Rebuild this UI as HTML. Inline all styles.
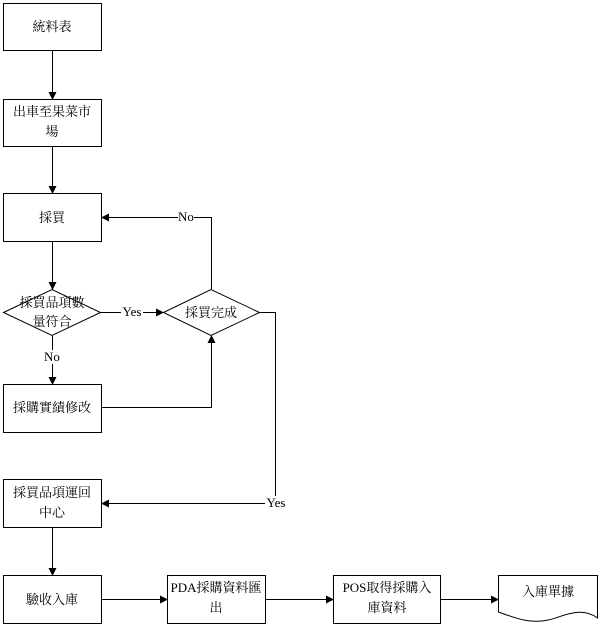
<!DOCTYPE html>
<html><head><meta charset="utf-8"><style>
body{margin:0;background:#fff}
svg text{font-family:"Liberation Serif","Noto Serif CJK SC",serif;font-size:13px;fill:#000}
</style></head><body>
<svg width="600" height="626" xmlns="http://www.w3.org/2000/svg">
<defs><marker id="a" markerWidth="8" markerHeight="8" refX="7" refY="4" orient="auto" markerUnits="userSpaceOnUse"><path d="M0,0 L8,4 L0,8z" fill="#000"/></marker></defs>
<g fill="none" stroke="#000" stroke-width="1">
<rect x="3.5" y="3.5" width="98" height="47"/>
<rect x="3.5" y="99.5" width="98" height="47"/>
<rect x="3.5" y="193.5" width="98" height="48"/>
<path d="M3.5,312.5 L52,289.5 L100.5,312.5 L52,335.5z"/>
<path d="M163.5,312.5 L211,289.5 L259.5,312.5 L211,335.5z"/>
<rect x="3.5" y="384.5" width="98" height="48"/>
<rect x="3.5" y="479.5" width="98" height="48"/>
<rect x="3.5" y="575.5" width="98" height="48"/>
<rect x="167.5" y="575.5" width="98" height="48"/>
<rect x="333.5" y="575.5" width="107" height="48"/>
<path d="M498.5,575.5 H597.5 V618 C580,605 560,618 548,620 C530,624 515,618 498.5,612z"/>
<g marker-end="url(#a)">
<path d="M52.5,51 V99"/>
<path d="M52.5,147 V193"/>
<path d="M52.5,242 V289"/>
<path d="M52.5,336 V384"/>
<path d="M101,312.5 H163"/>
<path d="M101,407.5 H211.5 V336"/>
<path d="M211.5,289 V217.5 H102"/>
<path d="M260,312.5 H275.5 V503.5 H102"/>
<path d="M52.5,528 V575"/>
<path d="M102,599.5 H167"/>
<path d="M266,599.5 H333"/>
<path d="M441,599.5 H498"/>
</g></g>
<g text-anchor="middle">
<text x="52" y="31">統料表</text>
<text x="52" y="116">出車至果菜市</text>
<text x="52" y="136">場</text>
<text x="52" y="222">採買</text>
<text x="52" y="307">採買品項數</text>
<text x="52" y="326">量符合</text>
<text x="211" y="317">採買完成</text>
<text x="52" y="412">採購實績修改</text>
<text x="52" y="497">採買品項運回</text>
<text x="52" y="517">中心</text>
<text x="52" y="604">驗收入庫</text>
<text x="216" y="592">PDA採購資料匯</text>
<text x="216" y="612">出</text>
<text x="387" y="592">POS取得採購入</text>
<text x="387" y="612">庫資料</text>
<text x="548" y="596">入庫單據</text>
</g>
<g text-anchor="middle" font-size="12">
<rect x="121" y="305" width="22" height="14" fill="#fff"/><text x="132" y="316">Yes</text>
<rect x="44" y="350" width="16" height="14" fill="#fff"/><text x="52" y="361">No</text>
<rect x="178" y="210" width="16" height="14" fill="#fff"/><text x="186" y="221">No</text>
<rect x="265" y="496" width="22" height="14" fill="#fff"/><text x="276" y="507">Yes</text>
</g>
</svg>
</body></html>
